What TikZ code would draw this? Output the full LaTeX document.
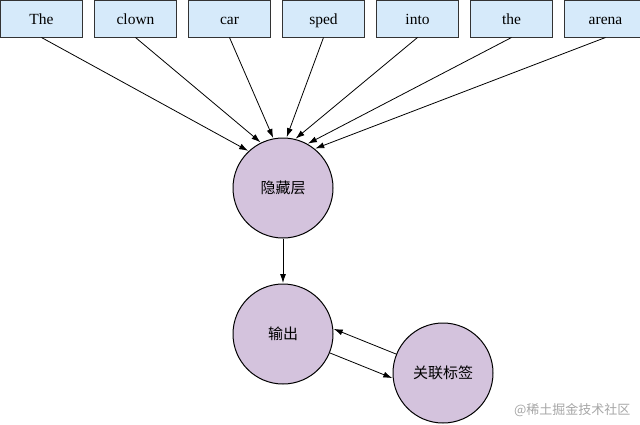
\documentclass[tikz,border=0pt]{standalone}
\usepackage{fontspec}
\setmainfont{Liberation Serif}
\newfontfamily\cjk{Noto Sans CJK SC}
\usetikzlibrary{positioning,arrows.meta}
\definecolor{wordblue}{RGB}{214,234,250}
\definecolor{unitpurple}{RGB}{212,195,221}

\begin{document}
\begin{tikzpicture}[x=1pt,y=1pt]
\tikzset{
word/.style={rectangle,draw=black!80,fill=wordblue,line width=1pt,
minimum width=82pt,minimum height=37pt,inner sep=0pt,text height=13pt,text depth=1pt,
text centered,font=\fontsize{15.5}{18}\selectfont},
unit/.style={circle,draw=black,fill=unitpurple,line width=1pt,minimum size=100pt,
inner sep=0pt,text centered,font=\fontsize{15}{18}\selectfont\cjk},
myarrow/.style={->, >={Latex[length=9pt,width=6pt]}, shorten >=0.5pt, line width=0.8pt},
watermark/.style={text=black!35, font=\fontsize{13}{15}\selectfont\cjk},
}
\useasboundingbox (0,0) rectangle (640,-424);

\node [word] at (41.5,-18.5) (the1) {The};
\node [word, right=11pt of the1] (clown) {clown};
\node [word, right=11pt of clown] (car) {car};
\node [word, right=11pt of car] (sped) {sped};
\node [word, right=11pt of sped] (into) {into};
\node [word, right=11pt of into] (the2) {the};
\node [word, right=11pt of the2] (arena) {arena};
\node [unit] at (283,-188) (hidden) {隐藏层};
\node [unit, below=45pt of hidden] (output) {输出};
\node [unit, right=59pt of output, yshift=-39pt] (related) {关联标签};
\node [watermark, anchor=east] at (634,-410) (wm) {@稀土掘金技术社区};
\draw[myarrow] (the1.south) -- (hidden.133);
\draw[myarrow] (clown.south) -- (hidden.116);
\draw[myarrow] (car.south) -- (hidden.101);
\draw[myarrow] (sped.south) -- (hidden.86);
\draw[myarrow] (into.south) -- (hidden.76);
\draw[myarrow] (the2.south) -- (hidden.61);
\draw[myarrow] (arena.south) -- (hidden.51);
\draw[myarrow] (hidden) -- (output);
\draw[myarrow] (output.-22) -- (related.186);
\draw[myarrow] (related.158) -- (output.6);
\end{tikzpicture}
\end{document}
